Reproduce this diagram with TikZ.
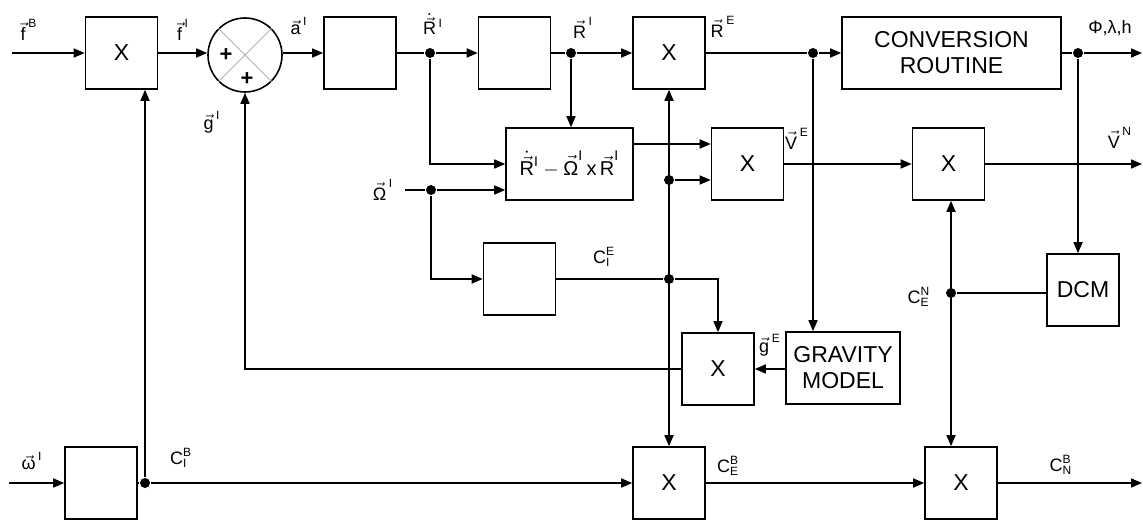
\documentclass[tikz,border=0pt]{standalone}
\usepackage{amsmath}
\usepackage{fontspec}
\setmainfont{Liberation Sans}
\usetikzlibrary{arrows.meta}

\tikzset{
  blk/.style={draw, minimum width=36pt, minimum height=36pt, inner sep=0pt,
    align=center, font=\fontsize{11.5}{13}\selectfont},
  lbl/.style={inner sep=0pt, font=\fontsize{9}{10}\selectfont},
  jn/.style={circle, fill, inner sep=0pt, minimum size=5pt},
}
\newcommand{\vlab}[2]{$\vec{\text{#1}}^{\,\text{#2}}$}
\newcommand{\clab}[3]{$\text{#1}_{\text{#2}}^{\text{#3}}$}

\begin{document}
\begin{tikzpicture}[x=0.5pt,y=-0.5pt,line width=0.8pt,
    >={Triangle[length=5.5pt,width=4.5pt]}]
  \useasboundingbox (0,0) rectangle (1143,523);

  % blocks
  \node[blk] (X1) at (121.5,53){X};
  \node[circle, draw, minimum size=37pt, inner sep=0pt] (S) at (245,55){};
  \node[blk] (A) at (360,53){};
  \node[blk] (B) at (514.5,53){};
  \node[blk] (X2) at (669,53){X};
  \node[blk, minimum width=109.5pt] (CONV) at (951.5,53){CONVERSION\\ROUTINE};
  \node[blk, minimum width=63.5pt, font=\fontsize{10}{12}\selectfont] (EXPR) at (569.5,164)
    {$\dot{\vec{\text{R}}}^{\text{I}} - \vec{\text{Ω}}^{\text{I}}\,\text{x}\,\vec{\text{R}}^{\text{I}}$};
  \node[blk] (XV) at (747.5,164){X};
  \node[blk] (X3) at (948.5,164){X};
  \node[blk] (CIE) at (519.5,279){};
  \node[blk] (XG) at (718,369){X};
  \node[blk, minimum width=57pt] (GRAV) at (843,368){GRAVITY\\MODEL};
  \node[blk] (DCM) at (1083,290){DCM};
  \node[blk] (OM) at (101,483){};
  \node[blk] (X4) at (669,483){X};
  \node[blk] (X5) at (961,483){X};

  % summing junction
  \draw[gray!60, line width=0.4pt] (S.north west) -- (S.south east);
  \draw[gray!60, line width=0.4pt] (S.north east) -- (S.south west);
  \node[font=\bfseries\fontsize{11}{12}\selectfont] (pl1) at (226,55){+};
  \node[font=\bfseries\fontsize{11}{12}\selectfont] (pl2) at (247,79){+};

  % branch points
  \node[jn] (d1) at (430,53){};
  \node[jn] (d2) at (571,53){};
  \node[jn] (d3) at (813,53){};
  \node[jn] (d4) at (1078,53){};
  \node[jn] (d5) at (431,190){};
  \node[jn] (d6) at (669,279){};
  \node[jn] (d7) at (669,180){};
  \node[jn] (d8) at (951,293){};
  \node[jn] (d9) at (145,483){};
  \coordinate (inF) at (12,53);
  \coordinate (inW) at (405,190);
  \coordinate (inOm) at (9,483);
  \coordinate (oP) at (1142,53);
  \coordinate (oV) at (1142,164);
  \coordinate (oC) at (1142,483);

  % top row
  \draw[->] (inF) -- (X1);
  \draw[->] (X1.east) -- (X1.east -| S.west);
  \draw[->] (S.east |- A.west) -- (A.west);
  \draw (A) -- (d1);
  \draw[->] (d1) -- (B);
  \draw (B) -- (d2);
  \draw[->] (d2) -- (X2);
  \draw (X2) -- (d3);
  \draw[->] (d3) -- (CONV);
  \draw (CONV) -- (d4);
  \draw[->] (d4) -- (oP);

  % middle
  \draw[->] (d1) |- (EXPR.west);
  \draw[->] (d2) -- (d2 |- EXPR.north);
  \draw (inW) -- (d5);
  \draw[->] (d5) -- (d5 -| EXPR.west);
  \draw[->] (d5) |- (CIE.west);
  \draw (CIE) -- (d6);
  \draw[->] (d6) -| (XG.north);
  \draw[<->] (X2.south) -- (X4.north);
  \draw[->] (d7) -- (d7 -| XV.west);
  \draw[->] ([yshift=10pt]EXPR.east) -- ([yshift=10pt]EXPR.east -| XV.west);
  \draw[->] (XV) -- (X3);
  \draw[->] (X3) -- (oV);
  \draw[->] (d3) -- (d3 |- GRAV.north);
  \draw[->] (GRAV.west |- XG.east) -- (XG.east);
  \draw[->] (XG.west) -| (S.south);
  \draw[->] (d4) -- (d4 |- DCM.north);
  \draw (DCM.west |- d8) -- (d8);
  \draw[<->] (d8 |- X3.south) -- (d8 |- X5.north);

  % bottom row
  \draw[->] (inOm) -- (OM);
  \draw (OM) -- (d9);
  \draw[->] (d9) -- (X4);
  \draw[->] (d9) -- (d9 |- X1.south);
  \draw[->] (X4) -- (X5);
  \draw[->] (X5) -- (oC);

  % signal labels
  \node[lbl] (LfB) at (29,30){\vlab{f}{B}};
  \node[lbl] (LfI) at (183,30){\vlab{f}{I}};
  \node[lbl] (LaI) at (299,26){\vlab{a}{I}};
  \node[lbl] (LgI) at (212,122){\vlab{g}{I}};
  \node[lbl] (LRd) at (433,24){$\dot{\vec{\text{R}}}^{\,\text{I}}$};
  \node[lbl] (LRI) at (583,28){\vlab{R}{I}};
  \node[lbl] (LRE) at (723,27){\vlab{R}{E}};
  \node[lbl] (Lpos) at (1110,28){Φ,λ,h};
  \node[lbl] (LVE) at (797,139){\vlab{V}{E}};
  \node[lbl] (LVN) at (1120,138){\vlab{V}{N}};
  \node[lbl] (LOm) at (383,190){\vlab{Ω}{I}};
  \node[lbl] (LCIE) at (604,257){\clab{C}{I}{E}};
  \node[lbl] (LgE) at (770,345){\vlab{g}{E}};
  \node[lbl] (LCEN) at (919,297){\clab{C}{E}{N}};
  \node[lbl] (Lw) at (32,461){\vlab{ω}{I}};
  \node[lbl] (LCIB) at (181,458){\clab{C}{I}{B}};
  \node[lbl] (LCEB) at (728,466){\clab{C}{E}{B}};
  \node[lbl] (LCNB) at (1061,465){\clab{C}{N}{B}};
\end{tikzpicture}
\end{document}
